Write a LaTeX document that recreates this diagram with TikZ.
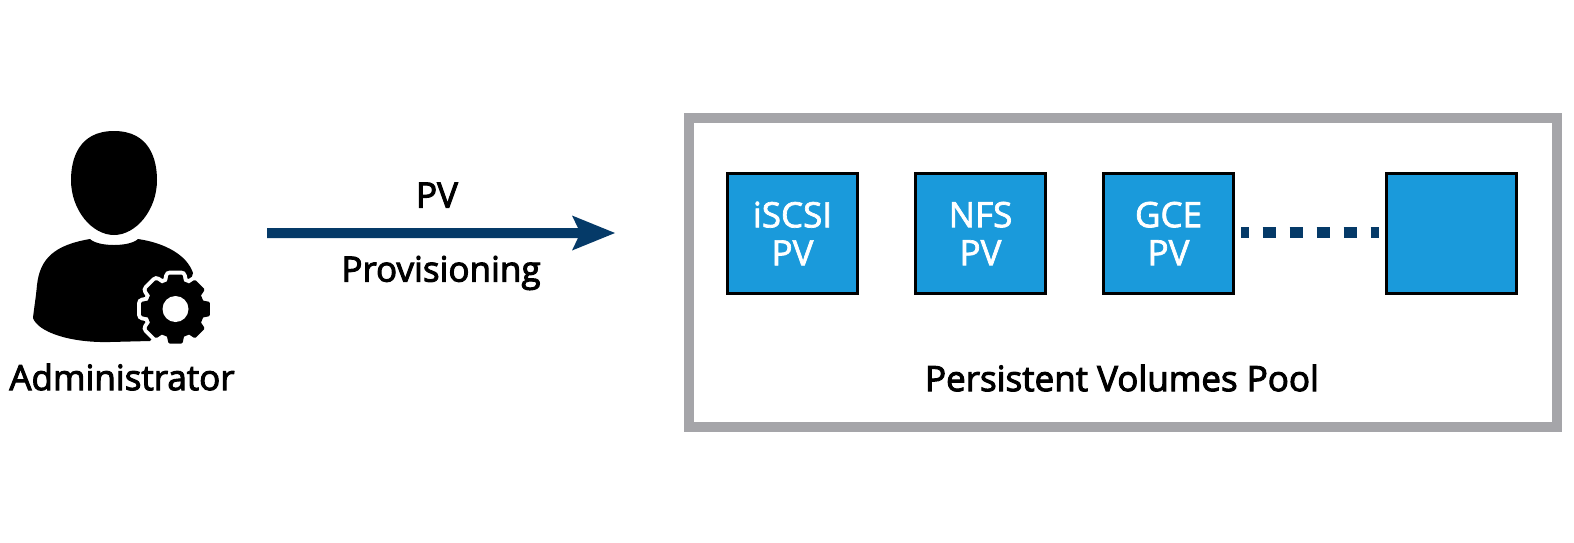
\documentclass[tikz,border=0pt]{standalone}
\usepackage{fontspec}
\setmainfont{Open Sans}
\newcommand\heavytext[2]{\special{pdf:code q 2 Tr #1 w}#2\special{pdf:code Q}}
\definecolor{poolgray}{HTML}{A5A5A9}
\definecolor{boxblue}{HTML}{1A9ADB}
\definecolor{navy}{HTML}{053A68}
\tikzset{
  pvbox/.style={draw=black,line width=3pt,fill=boxblue,minimum width=130pt,minimum height=120pt,inner sep=0pt,text=white,font=\fontsize{35}{38}\selectfont,align=center,anchor=north west},
  label text/.style={font=\fontsize{35}{38}\selectfont,text=black,inner sep=0pt},
}
\begin{document}
\begin{tikzpicture}[x=1pt,y=-1pt]
\useasboundingbox (0,0) rectangle (1574,542);
\fill[white] (0,0) rectangle (1574,542);
% pool
\node[draw=poolgray,line width=10pt,minimum width=868pt,minimum height=309pt,anchor=north west,inner sep=0pt] (pool) at (683.5,113) {};
% boxes
\node[pvbox] (iscsi) at (726,172) {\heavytext{0.7}{iSCSI}\\\heavytext{0.7}{PV}};
\node[pvbox] (nfs) at (914,172) {\heavytext{0.7}{NFS}\\\heavytext{0.7}{PV}};
\node[pvbox] (gce) at (1102,172) {\heavytext{0.7}{GCE}\\\heavytext{0.7}{PV}};
\node[pvbox] (blank) at (1385,172) {};
\draw[navy,line width=11pt,dash pattern=on 13.5pt off 13.5pt,dash phase=5.5pt] ([xshift=6pt,yshift=1pt]gce.east) -- ([xshift=-6pt,yshift=1pt]blank.west);
% labels
\node[label text] (pooltext) at (1122,378) {\heavytext{1.0}{Persistent Volumes Pool}};
\node[label text] (pvt) at (437,195) {\heavytext{1.0}{PV}};
\node[label text] (prov) at (441,273) {\heavytext{1.0}{Provisioning}};
\node[label text] (admin) at (122,377) {\heavytext{1.0}{Administrator}};
% arrow
\fill[navy] (267,228) -- (578,228) -- (572,215.5) -- (615,233) -- (572,250.5) -- (578,238) -- (267,238) -- cycle;
% person
\fill[black] (114,131) .. controls (150,131) and (157,160) .. (157,180) .. controls (157,210) and (136,235) .. (114,235) .. controls (92,235) and (71,210) .. (71,180) .. controls (71,160) and (78,131) .. (114,131) -- cycle;
\fill[black] (90,239) .. controls (55,245) and (40,258) .. (37,285) .. controls (36,297) and (34,308) .. (33,318) .. controls (38,332) and (70,343) .. (110,342) -- (150,341) -- (185,300) -- (193,273) .. controls (187,255) and (165,243) .. (138,239) .. controls (130,247) and (98,247) .. (90,239) -- cycle;
% gear
\def\gearpath#1#2{%
 \foreach \a in {0,45,...,315}{
  \pgfmathsetmacro{\p}{\a-15}\pgfmathsetmacro{\q}{\a-10}\pgfmathsetmacro{\r}{\a+10}\pgfmathsetmacro{\s}{\a+15}
  \ifnum\a=0 \xdef\gp{(\p:#1)}\else \xdef\gp{\gp -- (\p:#1)}\fi
  \xdef\gp{\gp -- (\q:#2) -- (\r:#2) -- (\s:#1)}
 }}
\gearpath{27.5}{33.5}
\begin{scope}[shift={(175.5,309)}]
\path[fill=white,draw=white,line width=11pt,line join=round] \gp -- cycle;
\path[fill=black,draw=black,line width=3pt,line join=round] \gp -- cycle;
\fill[white] (0,0) circle (13);
\end{scope}
\end{tikzpicture}
\end{document}
